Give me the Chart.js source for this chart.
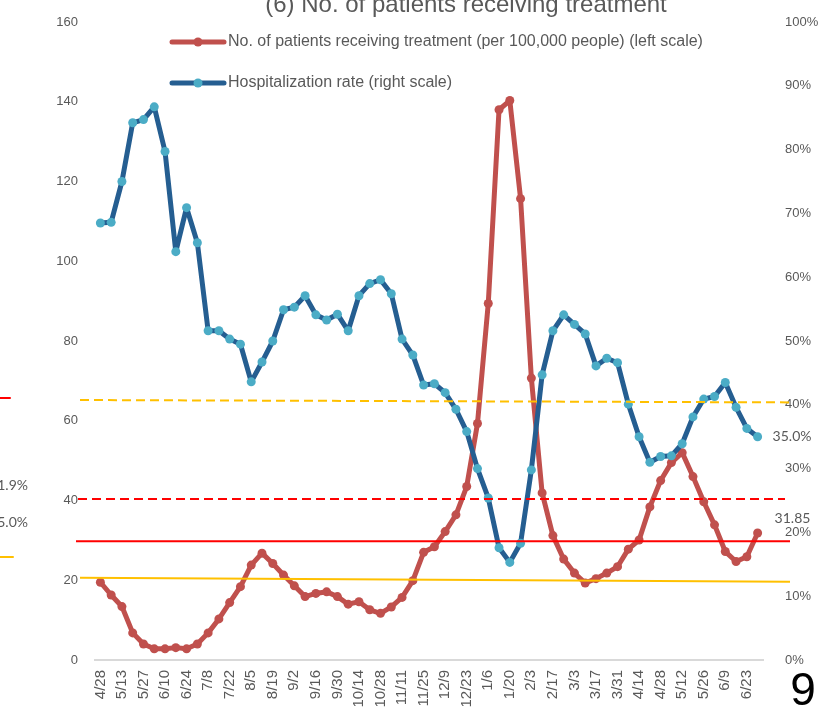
<!DOCTYPE html>
<html>
<head>
<meta charset="utf-8">
<script src="https://cdn.jsdelivr.net/npm/chart.js@4.4.0/dist/chart.umd.min.js"></script>
<style>
body { margin: 0; background: #ffffff; }
#wrap { position: relative; width: 833px; height: 707px; }
</style>
</head>
<body>
<div id="wrap"><canvas id="graphCanvasTreatment"></canvas></div>
<script>
// weekly data, labels shown every other week
var weeks = ['4/28','5/6','5/13','5/20','5/27','6/3','6/10','6/17','6/24','7/1',
    '7/8','7/15','7/22','7/29','8/5','8/12','8/19','8/26','9/2','9/9',
    '9/16','9/23','9/30','10/7','10/14','10/21','10/28','11/4','11/11','11/18',
    '11/25','12/2','12/9','12/16','12/23','12/30','1/6','1/13','1/20','1/27',
    '2/3','2/10','2/17','2/24','3/3','3/10','3/17','3/24','3/31','4/7',
    '4/14','4/21','4/28','5/5','5/12','5/19','5/26','6/2','6/9','6/16',
    '6/23','6/30'];

var patients = [19.5, 16.3, 13.4, 6.8, 4.0, 2.8, 2.8, 3.1, 2.8, 4.0,
    6.8, 10.3, 14.4, 18.4, 23.8, 26.8, 24.2, 21.3, 18.6, 15.9,
    16.7, 17.1, 15.9, 14.0, 14.6, 12.6, 11.7, 13.3, 15.7, 19.9,
    27.0, 28.4, 32.2, 36.4, 43.5, 59.3, 89.4, 138.0, 140.3, 115.7,
    70.7, 41.9, 31.2, 25.3, 21.8, 19.3, 20.4, 21.8, 23.4, 27.8,
    30.1, 38.4, 45.0, 49.5, 52.0, 46.0, 39.7, 33.9, 27.2, 24.7,
    25.9, 31.85];

var hospRate = [68.5, 68.6, 75.0, 84.2, 84.7, 86.7, 79.7, 64.0, 70.9, 65.4,
    51.6, 51.6, 50.3, 49.5, 43.6, 46.7, 50.0, 54.9, 55.3, 57.1,
    54.1, 53.3, 54.2, 51.6, 57.1, 59.0, 59.6, 57.4, 50.3, 47.8,
    43.1, 43.3, 41.9, 39.3, 35.8, 30.0, 25.4, 17.6, 15.3, 18.3,
    29.8, 44.7, 51.6, 54.1, 52.6, 51.1, 46.1, 47.3, 46.6, 40.1,
    35.0, 31.0, 31.9, 32.0, 33.9, 38.1, 40.9, 41.3, 43.5, 39.6,
    36.3, 35.0];

var seriesNames = ['No. of patients receiving treatment (per 100,000 people) (left scale)',
    'Hospitalization rate (right scale)'];
var chartTitle = '(6) No. of patients receiving treatment';

// reference levels on the left scale: [left end, right end]
var yellowDashed = [65.2, 64.6];
var redDashed = [40.4, 40.4];
var redSolid = [29.8, 29.8];
var yellowSolid = [20.6, 19.6];

// bits of the neighbouring chart cut at the left edge
var leftFragments = ['1.9%', '5.0%'];
var pageNumber = '9';

var grey = '#595959';
var font = "'Liberation Sans', Arial, sans-serif";

function hLine(ctx, x1, y1, x2, y2, color, dash) {
    ctx.save();
    ctx.strokeStyle = color;
    ctx.lineWidth = 2;
    ctx.setLineDash(dash || []);
    ctx.beginPath();
    ctx.moveTo(x1, y1);
    ctx.lineTo(x2, y2);
    ctx.stroke();
    ctx.restore();
}

// fixed axis widths, and no extra top/bottom padding from the tick padding
function fixWidth(w) {
    return function(scale) {
        scale.width = w;
        scale.paddingTop = 0;
        scale.paddingBottom = 0;
    };
}

var extrasPlugin = {
    id: 'extras',
    afterDatasetsDraw: function(chart) {
        var ctx = chart.ctx;
        var yL = chart.scales.yL;
        hLine(ctx, 80, yL.getPixelForValue(yellowDashed[0]), 790, yL.getPixelForValue(yellowDashed[1]), '#ffc000', [9, 5]);
        hLine(ctx, 78, yL.getPixelForValue(redDashed[0]), 785, yL.getPixelForValue(redDashed[1]), '#ff0000', [9, 5]);
        hLine(ctx, 76, yL.getPixelForValue(redSolid[0]), 790, yL.getPixelForValue(redSolid[1]), '#ff0000');
        hLine(ctx, 80, yL.getPixelForValue(yellowSolid[0]), 790, yL.getPixelForValue(yellowSolid[1]), '#ffc000');
    },
    afterDraw: function(chart) {
        var ctx = chart.ctx;
        ctx.save();

        // title (cut at the top like the original)
        ctx.fillStyle = grey;
        ctx.font = '24px ' + font;
        ctx.textAlign = 'center';
        ctx.textBaseline = 'alphabetic';
        ctx.fillText(chartTitle, 466, 12);

        // legend, one entry per row
        var rows = [42, 83];
        for (var i = 0; i < chart.data.datasets.length; i++) {
            var ds = chart.data.datasets[i];
            var y = rows[i];
            ctx.strokeStyle = ds.borderColor;
            ctx.lineWidth = 5;
            ctx.lineCap = 'round';
            ctx.beginPath();
            ctx.moveTo(172, y);
            ctx.lineTo(224, y);
            ctx.stroke();
            ctx.fillStyle = ds.pointBackgroundColor;
            ctx.beginPath();
            ctx.arc(198, y, 4.5, 0, Math.PI * 2);
            ctx.fill();
            ctx.fillStyle = grey;
            ctx.font = '16px ' + font;
            ctx.textAlign = 'left';
            ctx.textBaseline = 'middle';
            ctx.fillText(ds.label, 228, y);
        }

        // end-of-line value labels
        var last = patients.length - 1;
        var pHosp = chart.getDatasetMeta(1).data[last];
        var pPat = chart.getDatasetMeta(0).data[last];
        ctx.font = "14px Lato, 'Open Sans', sans-serif";
        ctx.fillStyle = grey;
        ctx.textAlign = 'left';
        ctx.textBaseline = 'middle';
        ctx.fillText(hospRate[last].toFixed(1) + '%', pHosp.x + 15, pHosp.y);
        ctx.fillText(patients[last].toFixed(2), pPat.x + 17, pPat.y - 15);

        // cut pieces at the left edge
        ctx.textAlign = 'right';
        ctx.fillText(leftFragments[0], 28, 485);
        ctx.fillText(leftFragments[1], 28, 522);
        hLine(ctx, 0, 398, 10, 398, '#ff0000');
        hLine(ctx, 0, 557, 13, 557, '#ffc000');

        // page number
        ctx.fillStyle = '#000000';
        ctx.font = '46px ' + font;
        ctx.textAlign = 'center';
        ctx.textBaseline = 'alphabetic';
        ctx.fillText(pageNumber, 803, 705);

        ctx.restore();
    }
};

function showGraphTreatment() {
    var chartdata = {
        labels: weeks,
        datasets: [{
            label: seriesNames[0],
            data: patients,
            yAxisID: 'yL',
            borderColor: '#c0504d',
            backgroundColor: '#c0504d',
            pointBackgroundColor: '#c0504d',
            pointBorderWidth: 0,
            pointRadius: 4.5,
            borderWidth: 5,
            borderJoinStyle: 'round',
            borderCapStyle: 'round',
            tension: 0,
            order: 1
        }, {
            label: seriesNames[1],
            data: hospRate,
            yAxisID: 'yR',
            borderColor: '#255e91',
            backgroundColor: '#255e91',
            pointBackgroundColor: '#4bacc6',
            pointBorderWidth: 0,
            pointRadius: 4.5,
            borderWidth: 5,
            borderJoinStyle: 'round',
            borderCapStyle: 'round',
            tension: 0,
            order: 0
        }]
    };

    var graphTarget = document.getElementById('graphCanvasTreatment');

    var lineGraph = new Chart(graphTarget, {
        type: 'line',
        data: chartdata,
        plugins: [extrasPlugin],
        options: {
            responsive: true,
            maintainAspectRatio: false,
            animation: false,
            layout: { autoPadding: false, padding: { top: 22, left: 0, right: 0, bottom: 0 } },
            plugins: {
                legend: { display: false },
                title: { display: false },
                tooltip: { enabled: false }
            },
            scales: {
                x: {
                    offset: true,
                    grid: { display: true, drawOnChartArea: false, drawTicks: false },
                    border: { display: true, color: '#d9d9d9', width: 2 },
                    ticks: {
                        autoSkip: false,
                        maxRotation: 90,
                        minRotation: 90,
                        padding: 10,
                        color: grey,
                        font: { family: font, size: 15 },
                        callback: function(value, index) {
                            return index % 2 === 0 ? weeks[index] : '';
                        }
                    },
                    afterFit: function(scale) { scale.height = 47; }
                },
                yL: {
                    position: 'left',
                    min: 0,
                    max: 160,
                    grid: { display: false, drawTicks: false },
                    border: { display: false },
                    ticks: {
                        stepSize: 20,
                        padding: 17,
                        color: grey,
                        font: { family: font, size: 13 }
                    },
                    afterFit: fixWidth(95)
                },
                yR: {
                    position: 'right',
                    min: 0,
                    max: 100,
                    grid: { display: false, drawTicks: false },
                    border: { display: false },
                    ticks: {
                        stepSize: 10,
                        padding: 22,
                        color: grey,
                        font: { family: font, size: 13 },
                        callback: function(value) { return value + '%'; }
                    },
                    afterFit: fixWidth(70)
                }
            }
        }
    });
}

showGraphTreatment();
</script>
</body>
</html>
